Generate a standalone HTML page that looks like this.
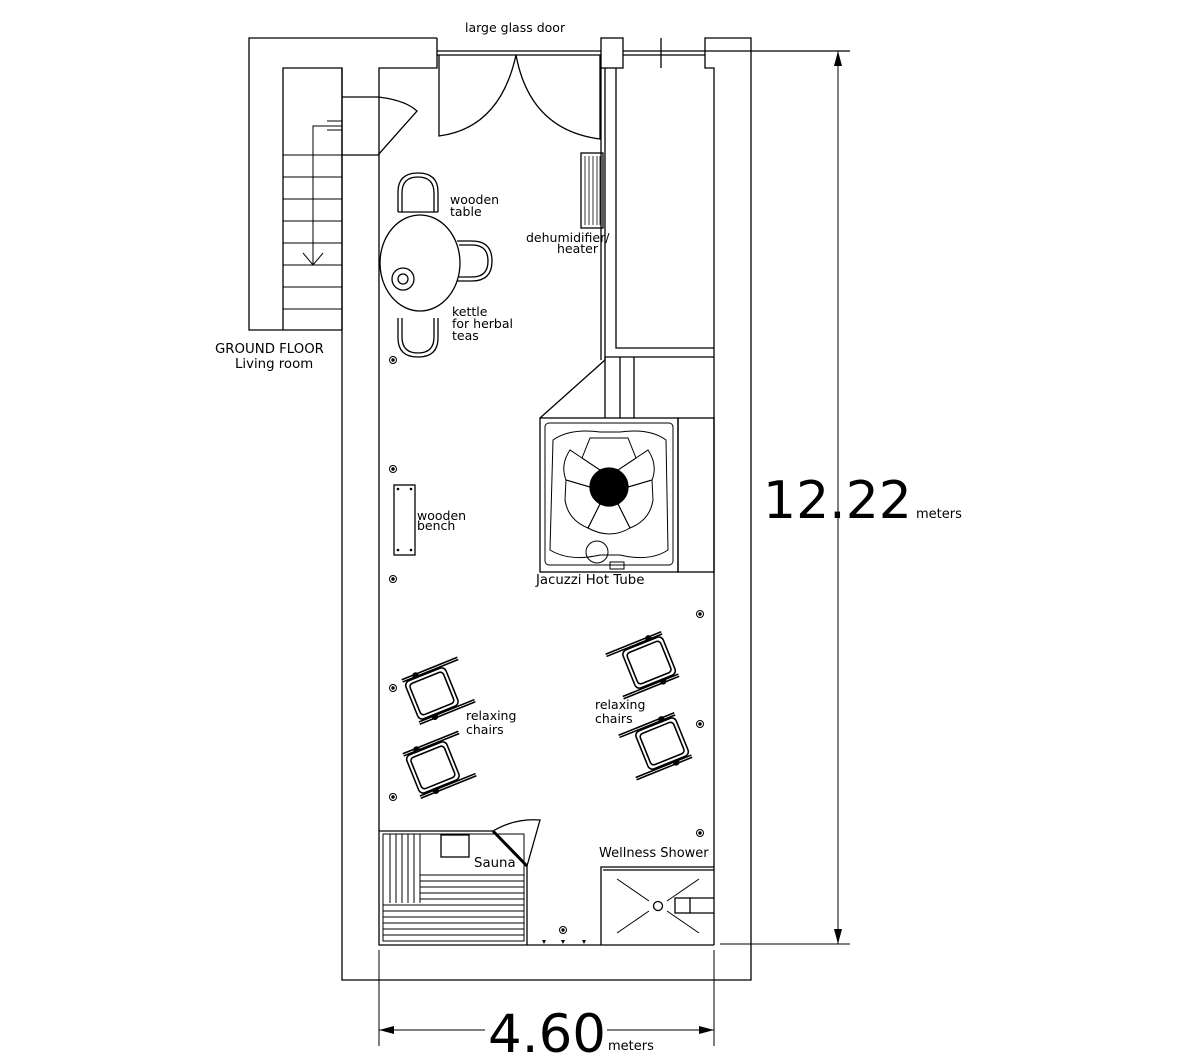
<!DOCTYPE html>
<html><head><meta charset="utf-8"><style>
body{margin:0;background:#fff}
svg{display:block}
text{font-family:"DejaVu Sans","Liberation Sans",sans-serif;fill:#000}
</style></head><body>
<svg width="1200" height="1064" viewBox="0 0 1200 1064" xmlns="http://www.w3.org/2000/svg">
<defs>
<g id="chair" fill="none" stroke="#000" stroke-width="1.3">
<rect x="-19" y="-17" width="36" height="34" rx="4"/>
<rect x="-16" y="-14" width="30" height="28" rx="3"/>
<line x1="-20" y1="-20" x2="30" y2="-20"/><line x1="-20" y1="-18" x2="30" y2="-18"/>
<line x1="-20" y1="18" x2="30" y2="18"/><line x1="-20" y1="20" x2="30" y2="20"/>
<circle cx="-8" cy="-19" r="2" fill="#000"/><circle cx="-6" cy="19" r="2" fill="#000"/>
</g>
<g id="mk" fill="none" stroke="#000"><circle r="3.5"/><circle r="1.2" fill="#000"/></g>
</defs>
<g fill="none" stroke="#000" stroke-width="1.3">
<polyline points="437,38 249,38 249,330 342,330"/>
<polyline points="283,330 283,68 342,68 342,980 751,980 751,38 705,38 705,68 714,68 714,945"/>
<polyline points="437,38 437,68 379,68 379,945 714,945"/>
<line x1="342" y1="68" x2="342" y2="330"/>
<g stroke-width="1">
<line x1="283" y1="155" x2="342" y2="155"/><line x1="283" y1="177" x2="342" y2="177"/>
<line x1="283" y1="199" x2="342" y2="199"/><line x1="283" y1="221" x2="342" y2="221"/>
<line x1="283" y1="243" x2="342" y2="243"/><line x1="283" y1="265" x2="342" y2="265"/>
<line x1="283" y1="287" x2="342" y2="287"/><line x1="283" y1="309" x2="342" y2="309"/>
<polyline points="342,126 313,126 313,265"/>
<polyline points="303,253 313,265 323,253"/>
<line x1="327" y1="121" x2="342" y2="121"/><line x1="327" y1="130" x2="342" y2="130"/>
</g>
<path d="M342,97 L378,97 Q405,100 417,111 L378,155 L342,155"/>
<line x1="437" y1="51" x2="850" y2="51"/><line x1="437" y1="55" x2="705" y2="55"/>
<rect x="601" y="38" width="22" height="30" fill="#fff"/>
<line x1="661" y1="38" x2="661" y2="68"/>
<path d="M439,55 L439,136 Q500,128 516,55"/>
<path d="M600,55 L600,139 Q530,130 516,55"/>
<line x1="601" y1="68" x2="601" y2="360"/><line x1="605" y1="68" x2="605" y2="360"/>
<polyline points="616,68 616,348 714,348"/>
<line x1="605" y1="357" x2="714" y2="357"/>
<line x1="605" y1="357" x2="605" y2="418"/><line x1="620" y1="357" x2="620" y2="418"/><line x1="634" y1="357" x2="634" y2="418"/>
<line x1="605" y1="360" x2="540" y2="418"/>
<rect x="540" y="418" width="138" height="154"/>
<rect x="678" y="418" width="36" height="154"/>
<rect x="545" y="423" width="128" height="142" rx="4" stroke-width="1"/>
<path d="M553,440 Q570,428 600,432 L620,432 Q650,428 666,440 L668,550 Q650,562 620,555 L600,555 Q570,562 550,550 Z" stroke-width="1"/>
<g stroke-width="1">
<path d="M590,438 L628,438 L636,458 L618,470 L600,470 L582,458 Z"/>
<path d="M582,458 L600,470 L590,487 L566,480 Q560,465 570,450 Z"/>
<path d="M636,458 L618,470 L628,487 L652,480 Q658,465 648,450 Z"/>
<path d="M566,480 L590,487 L600,504 L588,528 Q568,520 565,500 Z"/>
<path d="M652,480 L628,487 L618,504 L630,528 Q650,520 653,500 Z"/>
<path d="M600,504 L618,504 L630,528 Q610,540 588,528 Z"/>
</g>
<circle cx="609" cy="487" r="19" fill="#000"/>
<circle cx="597" cy="552" r="11" stroke-width="1"/>
<rect x="610" y="562" width="14" height="7" stroke-width="1"/>
<rect x="581" y="153" width="22" height="75"/>
<g stroke-width="0.8"><line x1="585" y1="156" x2="585" y2="225"/><line x1="589" y1="156" x2="589" y2="225"/><line x1="593" y1="156" x2="593" y2="225"/><line x1="597" y1="156" x2="597" y2="225"/><line x1="600" y1="156" x2="600" y2="225"/></g>
<ellipse cx="420" cy="263" rx="40" ry="48"/>
<circle cx="403" cy="279" r="11"/><circle cx="403" cy="279" r="5"/>
<path d="M398,212 L398,192 Q398,173 418,173 Q438,173 438,192 L438,212"/>
<path d="M402,212 L402,193 Q402,177 418,177 Q434,177 434,193 L434,212"/>
<line x1="398" y1="212" x2="438" y2="212"/>
<path d="M457,241 L472,241 Q492,241 492,261 Q492,281 472,281 L457,281"/>
<path d="M459,245 L472,245 Q488,245 488,261 Q488,277 472,277 L459,277"/>
<path d="M398,318 L398,338 Q398,357 418,357 Q438,357 438,338 L438,318"/>
<path d="M402,318 L402,337 Q402,353 418,353 Q434,353 434,337 L434,318"/>
<rect x="394" y="485" width="21" height="70"/>
<polyline points="379,831 493,831"/>
<line x1="493" y1="831" x2="527" y2="866" stroke-width="3"/>
<polyline points="527,866 527,945"/>
<path d="M527,866 L540,820 Q515,818 493,831"/>
<rect x="383" y="834" width="141" height="107" stroke-width="1"/>
<rect x="441" y="835" width="28" height="22"/>
<g stroke-width="1">
<line x1="390" y1="834" x2="390" y2="903"/><line x1="396" y1="834" x2="396" y2="903"/><line x1="402" y1="834" x2="402" y2="903"/><line x1="408" y1="834" x2="408" y2="903"/><line x1="414" y1="834" x2="414" y2="903"/><line x1="420" y1="834" x2="420" y2="903"/>
<line x1="420" y1="875" x2="524" y2="875"/><line x1="420" y1="881" x2="524" y2="881"/><line x1="420" y1="887" x2="524" y2="887"/><line x1="420" y1="893" x2="524" y2="893"/><line x1="420" y1="899" x2="524" y2="899"/>
<line x1="383" y1="905" x2="524" y2="905"/><line x1="383" y1="911" x2="524" y2="911"/><line x1="383" y1="917" x2="524" y2="917"/><line x1="383" y1="923" x2="524" y2="923"/><line x1="383" y1="929" x2="524" y2="929"/><line x1="383" y1="935" x2="524" y2="935"/>
</g>
<polyline points="601,945 601,867 714,867"/><line x1="603" y1="870" x2="714" y2="870"/>
<circle cx="658" cy="906" r="4.5"/>
<g stroke-width="1"><line x1="617" y1="879" x2="649" y2="901"/><line x1="699" y1="879" x2="667" y2="901"/><line x1="617" y1="933" x2="649" y2="911"/><line x1="699" y1="933" x2="667" y2="911"/></g>
<rect x="675" y="898" width="15" height="15"/><polyline points="690,898 714,898"/><polyline points="690,913 714,913"/>
<line x1="720" y1="944" x2="850" y2="944" stroke-width="1"/>
<line x1="838" y1="51" x2="838" y2="944" stroke-width="1"/>
<line x1="379" y1="950" x2="379" y2="1046" stroke-width="1"/>
<line x1="714" y1="950" x2="714" y2="1046" stroke-width="1"/>
<line x1="379" y1="1030" x2="485" y2="1030" stroke-width="1"/>
<line x1="607" y1="1030" x2="714" y2="1030" stroke-width="1"/>
</g>
<g fill="#000">
<polygon points="838,51 834,66 842,66"/><polygon points="838,944 834,929 842,929"/>
<polygon points="379,1030 394,1026 394,1034"/><polygon points="714,1030 699,1026 699,1034"/>
<polygon points="542,940 546,940 544,944"/><polygon points="561,940 565,940 563,944"/><polygon points="582,940 586,940 584,944"/>
</g>
<use href="#mk" x="393" y="360"/><use href="#mk" x="393" y="469"/><use href="#mk" x="393" y="579"/>
<use href="#mk" x="393" y="688"/><use href="#mk" x="393" y="797"/>
<use href="#mk" x="700" y="614"/><use href="#mk" x="700" y="724"/><use href="#mk" x="700" y="833"/>
<use href="#mk" x="563" y="930"/>
<g fill="#000"><circle cx="398" cy="489" r="1.3"/><circle cx="411" cy="489" r="1.3"/><circle cx="398" cy="550" r="1.3"/><circle cx="411" cy="550" r="1.3"/></g>
<use href="#chair" transform="translate(433,693) rotate(-22) scale(1.2)"/>
<use href="#chair" transform="translate(434,767) rotate(-22) scale(1.2)"/>
<use href="#chair" transform="translate(648,663) rotate(-22) scale(-1.2,1.2)"/>
<use href="#chair" transform="translate(661,744) rotate(-22) scale(-1.2,1.2)"/>
<g font-size="12.5">
<text x="465" y="32">large glass door</text>
<text x="450" y="204">wooden</text><text x="450" y="216">table</text>
<text x="526" y="242">dehumidifier/</text><text x="557" y="253">heater</text>
<text x="452" y="316">kettle</text><text x="452" y="328">for herbal</text><text x="452" y="340">teas</text>
<text x="215" y="353" font-size="13.3">GROUND FLOOR</text><text x="235" y="368" font-size="13.3">Living room</text>
<text x="417" y="520">wooden</text><text x="417" y="530">bench</text>
<text x="536" y="584" font-size="13.3">Jacuzzi Hot Tube</text>
<text x="466" y="720">relaxing</text><text x="466" y="734">chairs</text>
<text x="595" y="709">relaxing</text><text x="595" y="723">chairs</text>
<text x="474" y="867" font-size="13.3">Sauna</text>
<text x="599" y="857" font-size="13">Wellness Shower</text>
<text x="763" y="518" font-size="52">12.22</text><text x="916" y="518" font-size="13">meters</text>
<text x="488" y="1052" font-size="53">4.60</text><text x="608" y="1050" font-size="13">meters</text>
</g>
</svg>
</body></html>
